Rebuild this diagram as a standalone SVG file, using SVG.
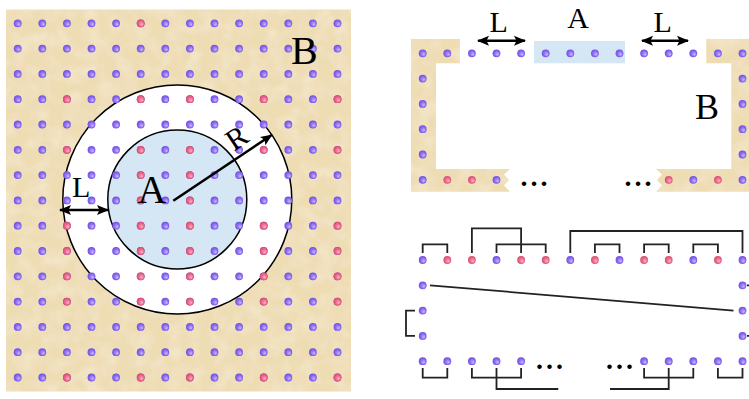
<svg xmlns="http://www.w3.org/2000/svg" xmlns:xlink="http://www.w3.org/1999/xlink" width="749" height="399" viewBox="0 0 749 399">
<style>
.lbl{font-family:"Liberation Serif","Times New Roman",serif;fill:#000}
.ell{font-family:"Liberation Serif","Times New Roman",serif;font-weight:bold;font-size:28px;letter-spacing:3px;fill:#000}
.beige{fill:#eedcb3;filter:url(#tex)}
.blue{fill:#d5e7f5}
.arr{stroke:#000;stroke-width:2.5;fill:none}
.br{stroke:#222;stroke-width:1.8;fill:none}
</style>
<defs>
<filter id="tex" x="0" y="0" width="100%" height="100%">
<feTurbulence type="fractalNoise" baseFrequency="0.06" numOctaves="3" seed="5" result="n"/>
<feColorMatrix in="n" type="matrix" values="0 0 0 0 1  0 0 0 0 0.97  0 0 0 0 0.88  0.6 0 0 0 -0.22" result="m"/>
<feComposite in="m" in2="SourceGraphic" operator="in" result="mm"/>
<feMerge><feMergeNode in="SourceGraphic"/><feMergeNode in="mm"/></feMerge>
</filter>
<radialGradient id="gp" cx="0.5" cy="0.5" r="0.55" fx="0.68" fy="0.68">
<stop offset="0" stop-color="#cdbdff"/><stop offset="0.55" stop-color="#8e6ff3"/><stop offset="1" stop-color="#6a47de"/>
</radialGradient>
<radialGradient id="gr" cx="0.5" cy="0.5" r="0.55" fx="0.68" fy="0.68">
<stop offset="0" stop-color="#ffb8c8"/><stop offset="0.55" stop-color="#ec6a8c"/><stop offset="1" stop-color="#d4466e"/>
</radialGradient>
<circle id="p" r="3.9" fill="url(#gp)"/>
<circle id="r" r="3.9" fill="url(#gr)"/>
<g id="prow">
<use href="#p" x="17.7"/><use href="#p" x="42.3"/><use href="#p" x="66.9"/><use href="#p" x="91.5"/><use href="#p" x="116.1"/><use href="#p" x="140.7"/><use href="#p" x="165.3"/><use href="#p" x="189.9"/><use href="#p" x="214.5"/><use href="#p" x="239.1"/><use href="#p" x="263.7"/><use href="#p" x="288.3"/><use href="#p" x="312.9"/><use href="#p" x="337.5"/>
</g>
<g id="rrow">
<use href="#r" x="66.9"/><use href="#r" x="140.7"/><use href="#r" x="189.9"/><use href="#r" x="263.7"/><use href="#r" x="337.5"/>
</g>
<marker id="ah" markerWidth="13" markerHeight="11" refX="11" refY="5.5" orient="auto-start-reverse" markerUnits="userSpaceOnUse">
<path d="M0,0.5 L12,5.5 L0,10.5 L2.5,5.5 z" fill="#000"/>
</marker>
</defs>

<g id="panel-left">
<rect class="beige" x="6" y="9.5" width="345" height="382"/>
<circle cx="177.3" cy="199.5" r="114.5" fill="#fff" stroke="#000" stroke-width="1.5"/>
<circle class="blue" cx="177.3" cy="199.5" r="69.5" stroke="#000" stroke-width="1.5"/>
<g id="grid">
<use href="#prow" y="23.3"/><use href="#prow" y="48.6"/><use href="#prow" y="73.9"/><use href="#prow" y="99.2"/><use href="#prow" y="124.5"/><use href="#prow" y="149.8"/><use href="#prow" y="175.1"/><use href="#prow" y="200.4"/><use href="#prow" y="225.7"/><use href="#prow" y="251"/><use href="#prow" y="276.3"/><use href="#prow" y="301.6"/><use href="#prow" y="326.9"/><use href="#prow" y="352.2"/><use href="#prow" y="377.5"/>
<use href="#r" x="140.7" y="23.3"/>
<use href="#rrow" y="99.2"/><use href="#rrow" y="149.8"/>
<use href="#r" x="140.7" y="175.1"/><use href="#r" x="189.9" y="175.1"/>
<use href="#r" x="140.7" y="200.4"/><use href="#r" x="189.9" y="200.4"/>
<use href="#rrow" y="225.7"/><use href="#rrow" y="251"/><use href="#rrow" y="276.3"/><use href="#rrow" y="301.6"/><use href="#rrow" y="377.5"/>
</g>
<text class="lbl" x="291" y="64" font-size="40">B</text>
<text class="lbl" x="137.5" y="203.3" font-size="40">A</text>
<text class="lbl" x="72" y="196.7" font-size="30">L</text>
<line class="arr" x1="60" y1="210" x2="108" y2="210" marker-start="url(#ah)" marker-end="url(#ah)"/>
<line class="arr" x1="173.3" y1="200.7" x2="271.7" y2="135" marker-end="url(#ah)"/>
<text class="lbl" font-size="30" text-anchor="middle" transform="translate(236.5,137.5) rotate(-34)" y="10.5">R</text>
</g>

<g id="panel-top-right">
<path class="beige" d="M411,39 H460 V63.3 H436 V169 H510 L504,174.5 L509,180 L504,185.5 L510,191.7 H411 Z"/>
<path class="beige" d="M706.3,39 H749 V191.7 H656 L662,185.5 L657,180 L662,174.5 L656,169 H731.3 V63.3 H706.3 Z"/>
<rect class="blue" x="534" y="41" width="91" height="22.3"/>
<g id="top-dots">
<use href="#p" x="422.7" y="53.3"/><use href="#p" x="447.3" y="53.3"/><use href="#p" x="471.9" y="53.3"/><use href="#p" x="496.5" y="53.3"/><use href="#p" x="521.1" y="53.3"/><use href="#p" x="545.7" y="53.3"/><use href="#p" x="570.3" y="53.3"/><use href="#p" x="594.9" y="53.3"/><use href="#p" x="619.5" y="53.3"/><use href="#p" x="644.1" y="53.3"/><use href="#p" x="668.7" y="53.3"/><use href="#p" x="693.3" y="53.3"/><use href="#p" x="717.9" y="53.3"/><use href="#p" x="742.5" y="53.3"/>
<use href="#p" x="422.7" y="78.6"/><use href="#p" x="422.7" y="103.9"/><use href="#p" x="422.7" y="129.2"/><use href="#p" x="422.7" y="154.5"/>
<use href="#p" x="742.5" y="78.6"/><use href="#p" x="742.5" y="103.9"/><use href="#p" x="742.5" y="129.2"/><use href="#p" x="742.5" y="154.5"/>
<use href="#p" x="422.7" y="179.8"/><use href="#r" x="447.3" y="179.8"/><use href="#r" x="471.9" y="179.8"/><use href="#p" x="496.5" y="179.8"/>
<use href="#r" x="668.7" y="179.8"/><use href="#p" x="693.3" y="179.8"/><use href="#r" x="717.9" y="179.8"/><use href="#p" x="742.5" y="179.8"/>
</g>
<text class="lbl" x="578" y="27.5" font-size="30" text-anchor="middle">A</text>
<text class="lbl" x="489.5" y="31.7" font-size="30">L</text>
<text class="lbl" x="653.5" y="31.7" font-size="30">L</text>
<text class="lbl" x="695" y="119" font-size="36">B</text>
<line class="arr" x1="478" y1="40.7" x2="525" y2="40.7" marker-start="url(#ah)" marker-end="url(#ah)"/>
<line class="arr" x1="642" y1="40.7" x2="688" y2="40.7" marker-start="url(#ah)" marker-end="url(#ah)"/>
<text class="ell" x="520.5" y="186">...</text>
<text class="ell" x="624.5" y="186">...</text>
</g>

<g id="panel-bottom-right">
<g id="connectors">
<path class="br" d="M422.7,253 V244.3 H447.3 V253"/>
<path class="br" d="M471.9,253 V228.3 H521.1 V253"/>
<path class="br" d="M496.5,253 V244.3 H545.7 V253"/>
<path class="br" d="M570.3,253 V231 H742.5 V253"/>
<path class="br" d="M594.9,253 V244.3 H619.5 V253"/>
<path class="br" d="M644.1,253 V244.3 H668.7 V253"/>
<path class="br" d="M693.3,253 V244.3 H717.9 V253"/>
<path class="br" d="M422.7,368 V377.7 H447.3 V368"/>
<path class="br" d="M471.9,368 V377.7 H521.1 V368"/>
<path class="br" d="M496.5,368 V389 H558.3"/>
<path class="br" d="M644.1,368 V377.7 H693.3 V368"/>
<path class="br" d="M668.7,368 V389 H610"/>
<path class="br" d="M717.9,368 V377.7 H742.5 V368"/>
<path class="br" d="M415,310.6 H406 V335.9 H415"/>
<path class="br" d="M747,285.3 H756 V335.9 H747"/>
<line class="br" x1="430" y1="285.3" x2="733.5" y2="310.6"/>
</g>
<g id="bottom-dots">
<use href="#p" x="422.7" y="260"/><use href="#r" x="447.3" y="260"/><use href="#r" x="471.9" y="260"/><use href="#p" x="496.5" y="260"/><use href="#r" x="521.1" y="260"/><use href="#r" x="545.7" y="260"/><use href="#p" x="570.3" y="260"/><use href="#r" x="594.9" y="260"/><use href="#p" x="619.5" y="260"/><use href="#r" x="644.1" y="260"/><use href="#r" x="668.7" y="260"/><use href="#p" x="693.3" y="260"/><use href="#r" x="717.9" y="260"/><use href="#p" x="742.5" y="260"/>
<use href="#p" x="422.7" y="285.3"/><use href="#p" x="422.7" y="310.6"/><use href="#p" x="422.7" y="335.9"/>
<use href="#p" x="742.5" y="285.3"/><use href="#p" x="742.5" y="310.6"/><use href="#p" x="742.5" y="335.9"/>
<use href="#p" x="422.7" y="361.2"/><use href="#p" x="447.3" y="361.2"/><use href="#p" x="471.9" y="361.2"/><use href="#p" x="496.5" y="361.2"/><use href="#p" x="521.1" y="361.2"/>
<use href="#p" x="644.1" y="361.2"/><use href="#p" x="668.7" y="361.2"/><use href="#p" x="693.3" y="361.2"/><use href="#p" x="717.9" y="361.2"/><use href="#p" x="742.5" y="361.2"/>
</g>
<text class="ell" x="536" y="369">...</text>
<text class="ell" x="606" y="369">...</text>
</g>
</svg>
